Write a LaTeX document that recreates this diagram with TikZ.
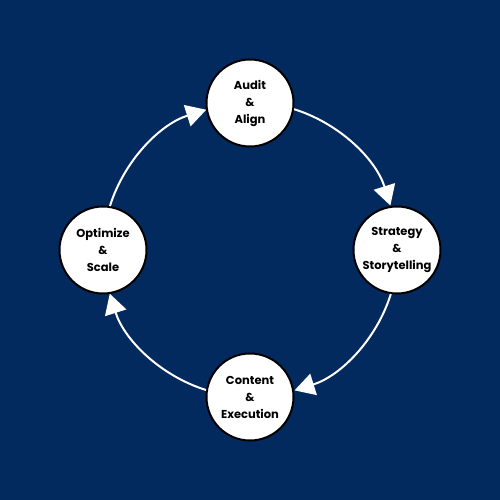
\documentclass[tikz,border=0pt]{standalone}
\usepackage{fontspec}
\setmainfont{Poppins}
\usetikzlibrary{arrows.meta}
\definecolor{navy}{RGB}{3,42,94}
\begin{document}
\begin{tikzpicture}[x=1pt,y=1pt,
  stage/.style={circle, draw=black, line width=2pt, fill=white, minimum size=87pt, inner sep=0pt,
    align=center, font=\fontsize{11.5}{17}\selectfont\bfseries, text=black},
  flow/.style={draw=white, line width=2pt, -{Triangle[width=22pt,length=20pt,fill=white]}}]
\fill[navy] (0,0) rectangle (500,500);
\useasboundingbox (0,0) rectangle (500,500);
\node[stage] (audit) at (250,397) {Audit\\\&\\Align};
\node[stage] (strat) at (397,250) {Strategy\\\&\\Storytelling};
\node[stage] (content) at (250,103) {Content\\\&\\Execution};
\node[stage] (opt) at (103,250) {Optimize\\\&\\Scale};
\draw[flow] (audit.-8.7) arc[start angle=72.6, end angle=17.4, radius=147];
\draw[flow] (strat.-98.7) arc[start angle=-17.4, end angle=-72.6, radius=147];
\draw[flow] (content.171.3) arc[start angle=-107.4, end angle=-162.6, radius=147];
\draw[flow] (opt.81.3) arc[start angle=162.6, end angle=107.4, radius=147];
\end{tikzpicture}
\end{document}
